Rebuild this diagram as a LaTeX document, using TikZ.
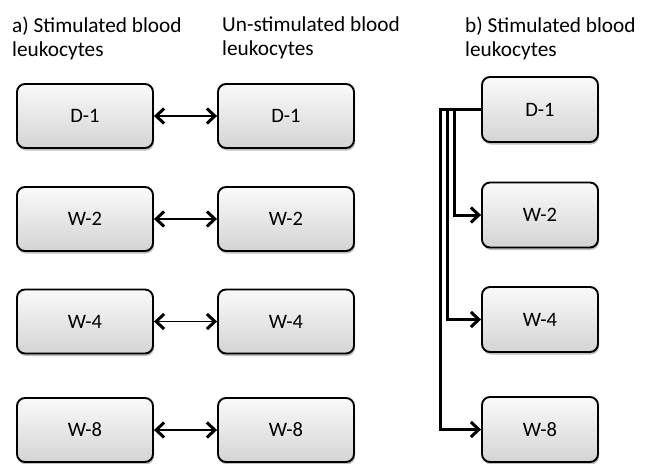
\documentclass[tikz,border=0pt]{standalone}
\usepackage{fontspec}
\setmainfont{Carlito}
\usetikzlibrary{arrows.meta,shadows}

\begin{document}
\begin{tikzpicture}[x=1pt,y=-1pt,
    cellbox/.style={draw,line width=1.9pt,rounded corners=8pt,
        top color=gray!4,bottom color=gray!34,
        minimum width=136pt,minimum height=64pt,inner sep=0pt,
        font=\fontsize{20.5}{24}\selectfont,
        drop shadow={shadow xshift=1pt,shadow yshift=-2.5pt,opacity=.25,fill=black}},
    narrow/.style={cellbox,minimum width=116pt,minimum height=65pt},
    title/.style={anchor=north west,inner sep=0pt,align=left,
        font=\fontsize{21.3}{24.5}\selectfont},
    barb/.tip={Straight Barb[length=8pt,width=15pt,line width=3pt]},
    pair/.style={barb-barb,line width=1.6pt},
    fan/.style={-barb,line width=3pt}]

            \useasboundingbox (0,0) rectangle (650,463);

            % headings
            \node[title] (ta) at (12,16.5) {a) Stimulated blood\\leukocytes};
            \node[title] (tu) at (222,16.5) {Un-stimulated blood\\leukocytes};
            \node[title] (tb) at (465,16.5) {b) Stimulated blood\\leukocytes};

            % a) stimulated
            \node[cellbox] (sD1) at (85,116) {D-1};
            \node[cellbox] (sW2) at (85,219) {W-2};
            \node[cellbox] (sW4) at (85,321.5) {W-4};
            \node[cellbox] (sW8) at (85,430) {W-8};

            % un-stimulated
            \node[cellbox] (uD1) at (286,116) {D-1};
            \node[cellbox] (uW2) at (286,219) {W-2};
            \node[cellbox] (uW4) at (286,321.5) {W-4};
            \node[cellbox] (uW8) at (286,430) {W-8};

            \draw[pair] (sD1) -- (uD1);
            \draw[pair] (sW2) -- (uW2);
            \draw[pair] (sW4) -- (uW4);
            \draw[pair] (sW8) -- (uW8);

            % b) stimulated
            \node[narrow] (bD1) at (540,109.5) {D-1};
            \node[narrow] (bW2) at (540,215) {W-2};
            \node[narrow] (bW4) at (540,319.5) {W-4};
            \node[narrow] (bW8) at (540,429.5) {W-8};

            \draw[fan] (bD1.west) -- ++(-27,0) |- (bW2.west);
            \draw[fan] (bD1.west) -- ++(-34,0) |- (bW4.west);
            \draw[fan] (bD1.west) -- ++(-41,0) |- (bW8.west);

\end{tikzpicture}
\end{document}
